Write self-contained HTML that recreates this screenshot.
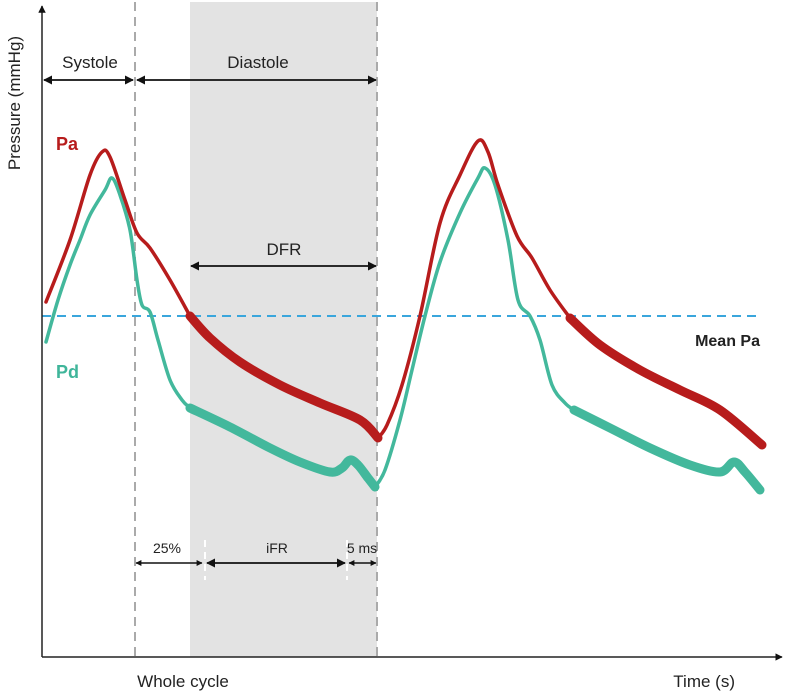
<!DOCTYPE html>
<html><head><meta charset="utf-8"><style>
html,body{margin:0;padding:0;background:#fff}
svg{display:block;font-family:"Liberation Sans",sans-serif}
</style></head><body>
<svg id="c" width="786" height="693" viewBox="0 0 786 693">
<defs>
<marker id="ah" viewBox="0 0 10 10" refX="9" refY="5" markerWidth="5" markerHeight="5" orient="auto-start-reverse"><path d="M0,0L10,5L0,10z" fill="#111"/></marker>
<marker id="ahs" viewBox="0 0 10 10" refX="9" refY="5" markerWidth="4" markerHeight="4" orient="auto-start-reverse"><path d="M0,0L10,5L0,10z" fill="#111"/></marker>
</defs>
<rect x="190" y="2" width="187" height="655" fill="#e3e3e3"/>
<line x1="135" y1="2" x2="135" y2="657" stroke="#aaa" stroke-width="2" stroke-dasharray="9,6"/>
<line x1="377" y1="2" x2="377" y2="657" stroke="#aaa" stroke-width="2" stroke-dasharray="9,6"/>
<line x1="205" y1="540" x2="205" y2="580" stroke="#fff" stroke-width="2" stroke-dasharray="7,5"/>
<line x1="347" y1="540" x2="347" y2="580" stroke="#fff" stroke-width="2" stroke-dasharray="7,5"/>
<line x1="42" y1="316" x2="758" y2="316" stroke="#3aa6dc" stroke-width="2" stroke-dasharray="9,6"/>
<g id="curves"></g>
<line x1="42" y1="657" x2="42" y2="6" stroke="#222" stroke-width="1.5" marker-end="url(#ah)"/>
<line x1="42" y1="657" x2="782" y2="657" stroke="#222" stroke-width="1.5" marker-end="url(#ah)"/>
<text x="20" y="103" transform="rotate(-90 20 103)" text-anchor="middle" font-size="17" fill="#222">Pressure (mmHg)</text>
<text x="735" y="687" text-anchor="end" font-size="17" fill="#222">Time (s)</text>
<text x="183" y="687" text-anchor="middle" font-size="17" fill="#222">Whole cycle</text>
<text x="90" y="68" text-anchor="middle" font-size="17" fill="#222">Systole</text>
<line x1="44" y1="80" x2="133" y2="80" stroke="#111" stroke-width="1.8" marker-start="url(#ah)" marker-end="url(#ah)"/>
<text x="258" y="68" text-anchor="middle" font-size="17" fill="#222">Diastole</text>
<line x1="137" y1="80" x2="376" y2="80" stroke="#111" stroke-width="1.8" marker-start="url(#ah)" marker-end="url(#ah)"/>
<text x="284" y="255" text-anchor="middle" font-size="17" fill="#222">DFR</text>
<line x1="191" y1="266" x2="376" y2="266" stroke="#111" stroke-width="1.8" marker-start="url(#ah)" marker-end="url(#ah)"/>
<text x="167" y="553" text-anchor="middle" font-size="14" fill="#222">25%</text>
<line x1="136" y1="563" x2="202" y2="563" stroke="#111" stroke-width="1.5" marker-start="url(#ahs)" marker-end="url(#ahs)"/>
<text x="277" y="553" text-anchor="middle" font-size="14" fill="#222">iFR</text>
<line x1="207" y1="563" x2="345" y2="563" stroke="#111" stroke-width="1.8" marker-start="url(#ah)" marker-end="url(#ah)"/>
<text x="362" y="553" text-anchor="middle" font-size="14" fill="#222">5 ms</text>
<line x1="349" y1="563" x2="376" y2="563" stroke="#111" stroke-width="1.5" marker-start="url(#ahs)" marker-end="url(#ahs)"/>
<text x="56" y="150" font-size="18" font-weight="bold" fill="#b71c1c">Pa</text>
<text x="56" y="378" font-size="18" font-weight="bold" fill="#3fb59a">Pd</text>
<text x="760" y="346" text-anchor="end" font-size="16" font-weight="bold" fill="#222">Mean Pa</text>
</svg>
<script>
const paThin1T=[4,28,48,60,68,83,95,108,128,148];
const paThin1P=[14,76,141,164,159,116,83,68,36,0];
const paThick1T=[148,168,198,238,278,318,336];
const paThick1P=[0,-22,-46,-69,-87,-104,-122];
const paThin2T=[336,345,360,378,398,418,436,446,456,475,490,508,528];
const paThin2P=[-122,-109,-69,0,93,141,175,164,131,80,58,26,-2];
const paThick2T=[528,558,598,638,678,720];
const paThick2P=[-2,-29,-54,-74,-94,-129];
const pdThin1T=[4,16,28,38,48,63,70,78,88,95,100,108,116,128,140,148];
const pdThin1P=[-26,16,51,76,101,126,138,121,86,36,11,4,-24,-64,-84,-92];
const pdThick1T=[148,188,228,258,288,300,308,316,326,333];
const pdThick1P=[-92,-111,-132,-146,-156,-152,-144,-149,-162,-171];
const pdThin2T=[333,343,358,370,383,398,418,436,443,453,466,476,488,498,510,523,532];
const pdThin2P=[-171,-154,-104,-54,0,54,103,138,148,131,76,16,0,-24,-69,-87,-94];
const pdThick2T=[532,568,608,648,678,692,703,718];
const pdThick2P=[-94,-112,-132,-149,-156,-146,-156,-174];
function xS(t){return 42+t;}
function yS(p){return 316-p;}
function pathD(T,P){
  const pts=T.map((t,i)=>[xS(t),yS(P[i])]);
  let d='M'+pts[0][0]+','+pts[0][1];
  for(let i=0;i<pts.length-1;i++){
    const p0=pts[i-1]||pts[i],p1=pts[i],p2=pts[i+1],p3=pts[i+2]||p2;
    const c1=[p1[0]+(p2[0]-p0[0])/6,p1[1]+(p2[1]-p0[1])/6];
    const c2=[p2[0]-(p3[0]-p1[0])/6,p2[1]-(p3[1]-p1[1])/6];
    d+=' C'+c1[0]+','+c1[1]+' '+c2[0]+','+c2[1]+' '+p2[0]+','+p2[1];
  }
  return d;
}
const g=document.getElementById('curves');
function add(T,P,color,w,name){
  const el=document.createElementNS('http://www.w3.org/2000/svg','path');
  el.setAttribute('d',pathD(T,P));
  el.setAttribute('fill','none');
  el.setAttribute('stroke',color);
  el.setAttribute('stroke-width',w);
  el.setAttribute('stroke-linecap','round');
  el.setAttribute('stroke-linejoin','round');
  
  
  g.appendChild(el);
}
const G='#43b89c',R='#b71c1c';
add(pdThin1T,pdThin1P,G,3.5,'pd-systole-1');
add(pdThick1T,pdThick1P,G,9,'pd-diastole-1');
add(pdThin2T,pdThin2P,G,3.5,'pd-systole-2');
add(pdThick2T,pdThick2P,G,9,'pd-diastole-2');
add(paThin1T,paThin1P,R,3.5,'pa-systole-1');
add(paThick1T,paThick1P,R,9,'pa-diastole-1');
add(paThin2T,paThin2P,R,3.5,'pa-systole-2');
add(paThick2T,paThick2P,R,9,'pa-diastole-2');
</script>
</body></html>
